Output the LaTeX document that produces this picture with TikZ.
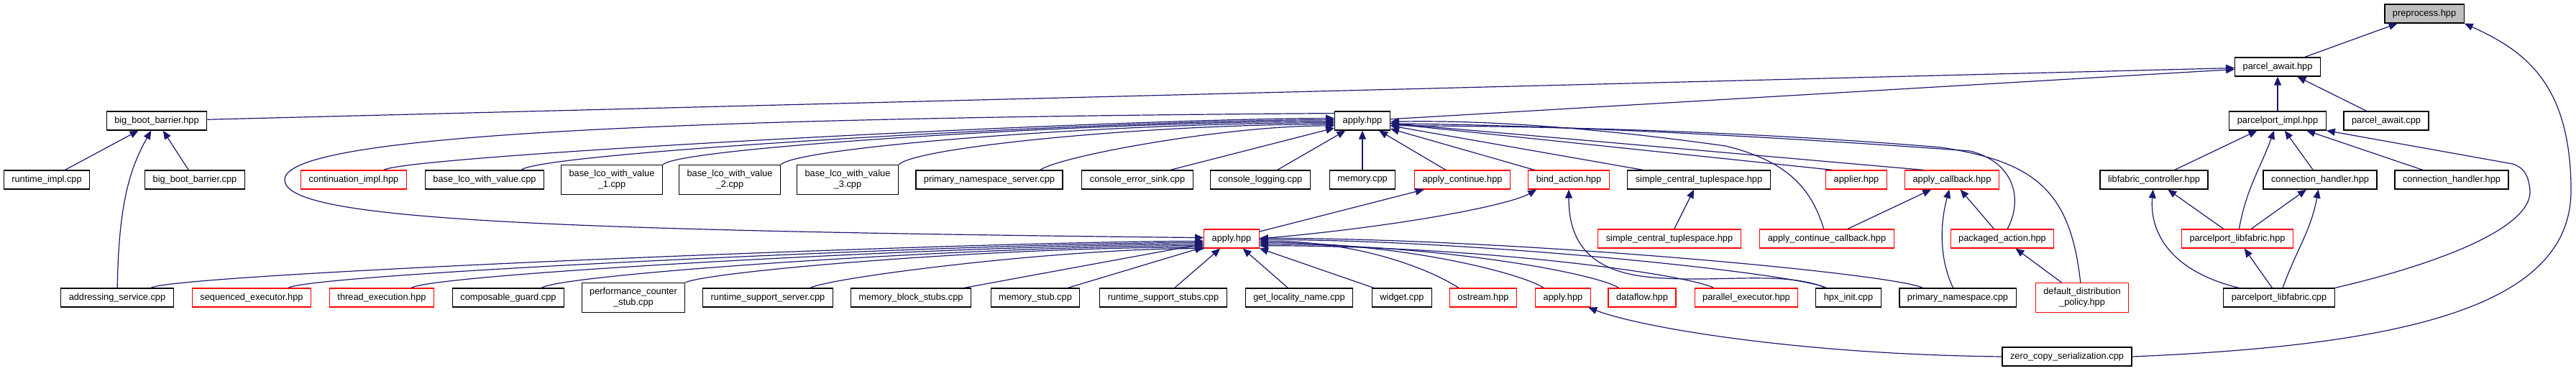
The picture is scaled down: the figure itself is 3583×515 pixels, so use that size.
\documentclass[tikz,border=0pt]{standalone}
\usepackage{fontspec}
\setmainfont{Liberation Sans}
\usetikzlibrary{arrows.meta}
\definecolor{edgeblue}{HTML}{191970}
\tikzset{>={Triangle[length=12pt,width=10pt]}}
\tikzset{
  incbox/.style={draw=black,line width=1.2pt,fill=white,inner xsep=11pt,inner ysep=7pt,
    minimum height=26pt,align=center,font=\fontsize{12.8pt}{15pt}\selectfont},
  redinc/.style={incbox,draw=red},
  rootinc/.style={incbox,fill=black!25},
  incl/.style={->,draw=edgeblue,line width=1.2pt},
}

\begin{document}
\begin{tikzpicture}[x=1pt,y=1pt]
\useasboundingbox (0,0) rectangle (3583,515);
% row 0 and 1
\node[rootinc] (pre) at (3372,496) {preprocess.hpp};
\node[incbox] (pawh) at (3168,422) {parcel\_await.hpp};
% row 2
\node[incbox] (bbbh) at (218,347) {big\_boot\_barrier.hpp};
\node[incbox] (apa) at (1895,347) {apply.hpp};
\node[incbox] (ppimpl) at (3168,347) {parcelport\_impl.hpp};
\node[incbox] (pawc) at (3319,347) {parcel\_await.cpp};
% row 3
\node[incbox] (rtimpl) at (65,265) {runtime\_impl.cpp};
\node[incbox] (bbbc) at (271,265) {big\_boot\_barrier.cpp};
\node[redinc] (contimpl) at (492,265) {continuation\_impl.hpp};
\node[incbox] (blco) at (674,265) {base\_lco\_with\_value.cpp};
\node[incbox] (blcoa) at (851,265) {base\_lco\_with\_value\\\_1.cpp};
\node[incbox] (blcob) at (1015,265) {base\_lco\_with\_value\\\_2.cpp};
\node[incbox] (blcoc) at (1179,265) {base\_lco\_with\_value\\\_3.cpp};
\node[incbox] (pnss) at (1376,265) {primary\_namespace\_server.cpp};
\node[incbox] (cesink) at (1582,265) {console\_error\_sink.cpp};
\node[incbox] (clog) at (1753,265) {console\_logging.cpp};
\node[incbox] (mem) at (1895,265) {memory.cpp};
\node[redinc] (apcont) at (2034,265) {apply\_continue.hpp};
\node[redinc] (bind) at (2182,265) {bind\_action.hpp};
\node[incbox] (sctb) at (2363,265) {simple\_central\_tuplespace.hpp};
\node[redinc] (applier) at (2582,265) {applier.hpp};
\node[redinc] (apcb) at (2715,265) {apply\_callback.hpp};
\node[incbox] (lfctl) at (2996,265) {libfabric\_controller.hpp};
\node[incbox] (chha) at (3227,265) {connection\_handler.hpp};
\node[incbox] (chhb) at (3410,265) {connection\_handler.hpp};
% row 4
\node[redinc] (apb) at (1713,183) {apply.hpp};
\node[redinc] (sctr) at (2322,183) {simple\_central\_tuplespace.hpp};
\node[redinc] (apccb) at (2541,183) {apply\_continue\_callback.hpp};
\node[redinc] (pkact) at (2785,183) {packaged\_action.hpp};
\node[redinc] (pplfh) at (3112,183) {parcelport\_libfabric.hpp};
% row 5
\node[incbox] (addr) at (163,101) {addressing\_service.cpp};
\node[redinc] (seqex) at (350,101) {sequenced\_executor.hpp};
\node[redinc] (threx) at (531,101) {thread\_execution.hpp};
\node[incbox] (cguard) at (707,101) {composable\_guard.cpp};
\node[incbox] (pcstub) at (881,101) {performance\_counter\\\_stub.cpp};
\node[incbox] (rtss) at (1068,101) {runtime\_support\_server.cpp};
\node[incbox] (mbstub) at (1267,101) {memory\_block\_stubs.cpp};
\node[incbox] (mstub) at (1440,101) {memory\_stub.cpp};
\node[incbox] (rtsst) at (1618,101) {runtime\_support\_stubs.cpp};
\node[incbox] (getloc) at (1807,101) {get\_locality\_name.cpp};
\node[incbox] (widget) at (1950,101) {widget.cpp};
\node[redinc] (ostr) at (2063,101) {ostream.hpp};
\node[redinc] (apc) at (2174,101) {apply.hpp};
\node[redinc] (dflow) at (2284,101) {dataflow.hpp};
\node[redinc] (parex) at (2429,101) {parallel\_executor.hpp};
\node[incbox] (hpxinit) at (2571,101) {hpx\_init.cpp};
\node[incbox] (pns) at (2723,101) {primary\_namespace.cpp};
\node[redinc] (ddp) at (2896,101) {default\_distribution\\\_policy.hpp};
\node[incbox] (pplfc) at (3170,101) {parcelport\_libfabric.cpp};
% row 6
\node[incbox] (zcs) at (2875,19) {zero\_copy\_serialization.cpp};

\draw[incl] (pawh) -- (pre);
\draw[incl] (zcs.east) .. controls (3350,35) and (3576,90) .. (3576,250)
  .. controls (3576,400) and (3510,445) .. (pre.south east);
\draw[incl] (bbbh) -- (pawh);
\draw[incl] (apa) -- (pawh);
\draw[incl] (ppimpl) -- (pawh);
\draw[incl] (pawc) -- (pawh);
\draw[incl] (lfctl) -- (ppimpl);
\draw[incl] (pplfh) to[out=80,in=-110] (ppimpl);
\draw[incl] (chha) -- (ppimpl);
\draw[incl] (chhb) -- (ppimpl);
\draw[incl] (pplfc.north east) .. controls (3400,150) and (3522,200) .. (3519,250)
  .. controls (3517,272) and (3510,282) .. (3495,287) -- (ppimpl.south east);
\draw[incl] (pplfh) -- (lfctl);
\draw[incl] (pplfc) .. controls (3010,140) and (2990,200) .. (lfctl);
\draw[incl] (pplfh) -- (chha);
\draw[incl] (pplfc) to[out=70,in=-100] (chha);
\draw[incl] (pplfc) -- (pplfh);
\draw[incl] (rtimpl) -- (bbbh);
\draw[incl] (bbbc) -- (bbbh);
\draw[incl] (addr) .. controls (165,230) and (180,280) .. (bbbh);

\draw[incl] ([xshift=-32pt]contimpl.north east) .. controls +(30,20) and +(-300,0) .. (apa.175);
\draw[incl] ([xshift=-32pt]blco.north east) .. controls +(25,25) and +(-300,0) .. (apa.178);
\draw[incl] (blcoa.north east) .. controls +(25,25) and +(-300,0) .. (apa.181);
\draw[incl] (blcob.north east) .. controls +(25,25) and +(-300,0) .. (apa.184);
\draw[incl] (blcoc.north east) .. controls +(25,25) and +(-250,0) .. (apa.187);
\draw[incl] ([xshift=-32pt]pnss.north east) .. controls +(30,20) and +(-150,0) .. (apa.190);
\draw[incl] ([xshift=-32pt]cesink.north east) -- (apa);
\draw[incl] (clog) -- (apa);
\draw[incl] (mem) -- (apa);
\draw[incl] (apcont) -- (apa);
\draw[incl] (bind) -- (apa);
\draw[incl] (sctb) -- (apa);
\draw[incl] ([xshift=10pt]applier.north west) -- (apa);
\draw[incl] ([xshift=26pt]apcb.north west) -- (apa);
\draw[incl] (apccb) .. controls (2520,250) and (2490,290) .. (2400,312)
  .. controls (2200,340) and (2050,348) .. (apa.-2);
\draw[incl] (pkact) .. controls (2815,240) and (2800,290) .. (2740,305)
  .. controls (2400,330) and (2100,342) .. (apa.-6);
\draw[incl] (ddp) .. controls (2880,250) and (2830,290) .. (2700,310)
  .. controls (2400,335) and (2100,340) .. (apa.-10);
\draw[incl] (apa.165) .. controls (800,350) and (396,320) .. (396,265)
  .. controls (396,212) and (700,195) .. (apb.178);

\draw[incl] ([xshift=-32pt]addr.north east) .. controls +(30,20) and +(-300,0) .. (apb.185);
\draw[incl] ([xshift=-32pt]seqex.north east) .. controls +(30,20) and +(-300,0) .. (apb.188);
\draw[incl] ([xshift=-32pt]threx.north east) .. controls +(30,20) and +(-300,0) .. (apb.191);
\draw[incl] ([xshift=-32pt]cguard.north east) .. controls +(30,20) and +(-300,0) .. (apb.194);
\draw[incl] (pcstub.north east) .. controls +(30,15) and +(-300,0) .. (apb.197);
\draw[incl] ([xshift=-32pt]rtss.north east) .. controls +(30,15) and +(-200,0) .. (apb.200);
\draw[incl] (mbstub) -- (apb);
\draw[incl] (mstub) -- (apb);
\draw[incl] (rtsst) -- (apb);
\draw[incl] (getloc) -- (apb);
\draw[incl] (widget) -- (apb);
\draw[incl] ([xshift=13pt]ostr.north west) .. controls +(-30,20) and +(150,0) .. (apb.-5);
\draw[incl] ([xshift=12pt]apc.north west) .. controls +(-30,20) and +(200,0) .. (apb.-8);
\draw[incl] ([xshift=15pt]dflow.north west) .. controls +(-30,20) and +(250,0) .. (apb.-11);
\draw[incl] ([xshift=27pt]parex.north west) .. controls +(-40,20) and +(300,0) .. (apb.-14);
\draw[incl] ([xshift=15pt]hpxinit.north west) .. controls +(-40,20) and +(300,0) .. (apb.-2);
\draw[incl] ([xshift=33pt]pns.north west) .. controls +(-40,20) and +(350,0) .. (apb.1);
\draw[incl] (zcs.west) .. controls (2500,22) and (2280,60) .. (apc);

\draw[incl] (apb) -- (apcont);
\draw[incl] (apb.east) .. controls (1950,200) and (2100,230) .. ([xshift=12pt]bind.south west);
\draw[incl] (hpxinit) .. controls (2480,140) and (2380,120) .. (2290,130)
  .. controls (2200,140) and (2182,190) .. (bind);
\draw[incl] (sctr) -- (sctb);
\draw[incl] (apccb) -- (apcb);
\draw[incl] (pkact) -- (apcb);
\draw[incl] (pns) .. controls (2695,160) and (2700,210) .. (apcb);
\draw[incl] (ddp) -- (pkact);
\end{tikzpicture}
\end{document}
